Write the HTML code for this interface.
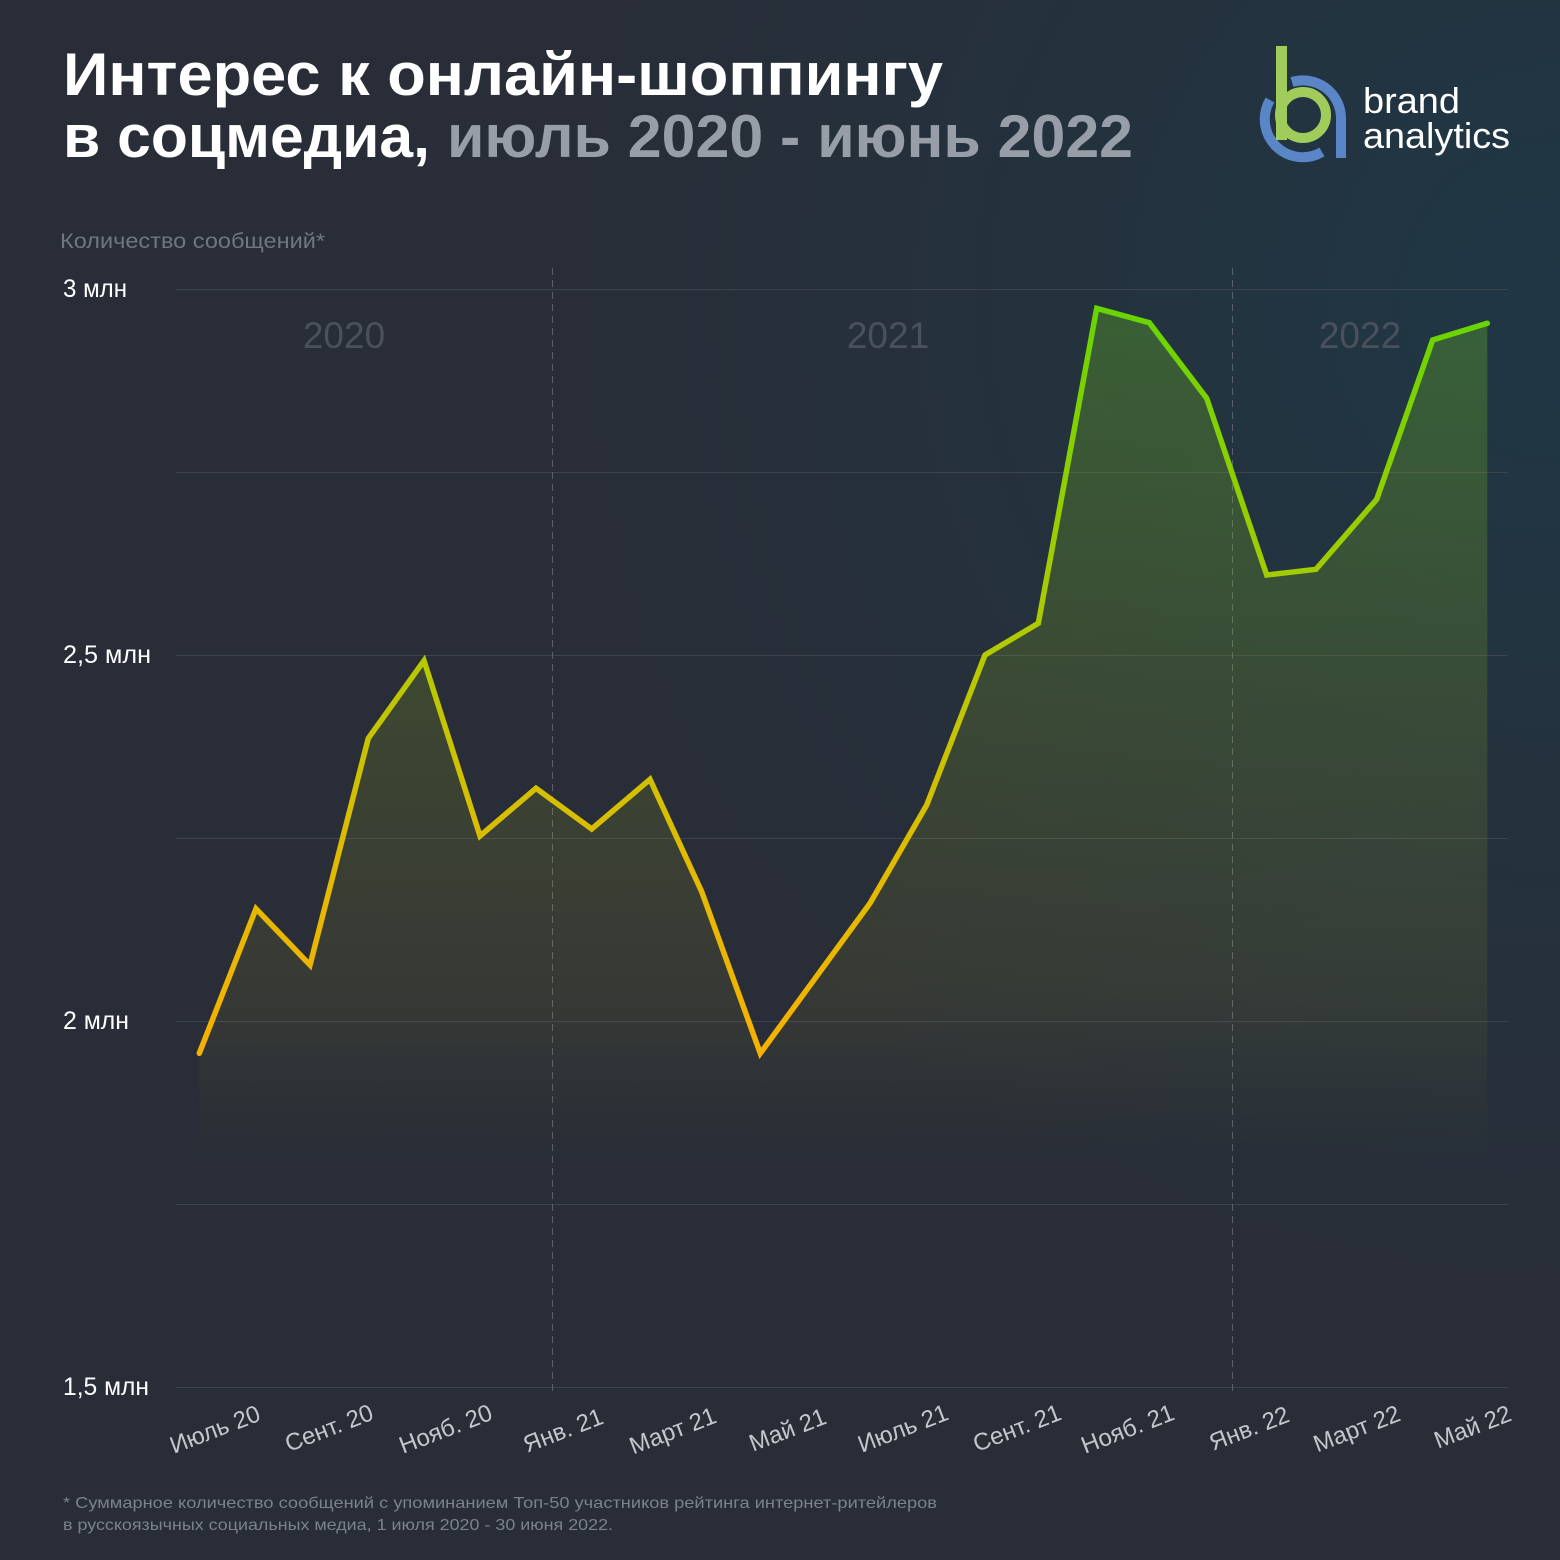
<!DOCTYPE html>
<html>
<head>
<meta charset="utf-8">
<style>
  html, body { margin:0; padding:0; width:1560px; height:1560px; overflow:hidden; background:#282d37; }
  svg { display:block; }
  text { font-family: "Liberation Sans", "Noto Sans CJK JP", sans-serif; }
</style>
</head>
<body>
<svg width="1560" height="1560" viewBox="0 0 1560 1560" xmlns="http://www.w3.org/2000/svg">
  <defs>
    <radialGradient id="bg" gradientUnits="userSpaceOnUse" cx="1560" cy="300" r="1000">
      <stop offset="0" stop-color="#1f3745"/>
      <stop offset="0.4" stop-color="#23333f"/>
      <stop offset="1" stop-color="#282d37"/>
    </radialGradient>
    <linearGradient id="lineg" gradientUnits="userSpaceOnUse" x1="0" y1="1060" x2="0" y2="305">
      <stop offset="0" stop-color="#f7b100"/>
      <stop offset="0.27" stop-color="#e0bb00"/>
      <stop offset="0.53" stop-color="#b6c900"/>
      <stop offset="1" stop-color="#66d500"/>
    </linearGradient>
    <linearGradient id="fillg" gradientUnits="userSpaceOnUse" x1="0" y1="300" x2="0" y2="1160">
      <stop offset="0" stop-color="#6ec81e" stop-opacity="0.30"/>
      <stop offset="0.45" stop-color="#96be14" stop-opacity="0.18"/>
      <stop offset="0.8" stop-color="#beaa1e" stop-opacity="0.10"/>
      <stop offset="1" stop-color="#beaa1e" stop-opacity="0"/>
    </linearGradient>
  </defs>

  <rect x="0" y="0" width="1560" height="1560" fill="url(#bg)"/>

  <!-- Title -->
  <text x="63" y="95" font-size="60" font-weight="bold" fill="#ffffff" textLength="880" lengthAdjust="spacingAndGlyphs">Интерес к онлайн-шоппингу</text>
  <text x="63" y="157" font-size="60" font-weight="bold" fill="#ffffff" textLength="367" lengthAdjust="spacingAndGlyphs">в соцмедиа,</text>
  <text x="447" y="157" font-size="60" font-weight="bold" fill="#989ea7" textLength="686" lengthAdjust="spacingAndGlyphs">июль 2020 - июнь 2022</text>

  <!-- Logo -->
  <g fill="none" stroke-width="10">
    <path d="M 1270 100 A 38 38 0 0 0 1322 152" stroke="#5a86c8"/>
    <path d="M 1292 82 A 38 38 0 0 1 1341 118 L 1341 158" stroke="#5a86c8"/>
    <circle cx="1303" cy="115" r="23" stroke="#a0cc5c"/>
  </g>
  <rect x="1276" y="46" width="11" height="94" fill="#a0cc5c"/>
  <text x="1363" y="113" font-size="36" fill="#ffffff" textLength="97" lengthAdjust="spacingAndGlyphs">brand</text>
  <text x="1363" y="148" font-size="36" fill="#ffffff" textLength="147" lengthAdjust="spacingAndGlyphs">analytics</text>

  <!-- Axis title -->
  <text x="60" y="248" font-size="21" fill="#70767f" textLength="265" lengthAdjust="spacingAndGlyphs">Количество сообщений*</text>

  <!-- Gridlines -->
  <g stroke="#3d434c" stroke-width="1">
    <line x1="176" y1="289.5" x2="1508" y2="289.5"/>
    <line x1="176" y1="472.5" x2="1508" y2="472.5"/>
    <line x1="176" y1="655.5" x2="1508" y2="655.5"/>
    <line x1="176" y1="838.5" x2="1508" y2="838.5"/>
    <line x1="176" y1="1021.5" x2="1508" y2="1021.5"/>
    <line x1="176" y1="1204.5" x2="1508" y2="1204.5"/>
    <line x1="176" y1="1387.5" x2="1508" y2="1387.5"/>
  </g>

  <!-- Dashed year separators -->
  <g stroke="#59606a" stroke-width="1" stroke-dasharray="7 5">
    <line x1="552.5" y1="268" x2="552.5" y2="1392"/>
    <line x1="1232.5" y1="268" x2="1232.5" y2="1392"/>
  </g>

  <!-- Year labels -->
  <g font-size="37" fill="#4a515c" text-anchor="middle">
    <text x="344" y="348">2020</text>
    <text x="888" y="348">2021</text>
    <text x="1360" y="348">2022</text>
  </g>

  <!-- Y labels -->
  <g font-size="25" fill="#ffffff">
    <text x="63" y="297" textLength="64" lengthAdjust="spacingAndGlyphs">3 млн</text>
    <text x="63" y="663" textLength="88" lengthAdjust="spacingAndGlyphs">2,5 млн</text>
    <text x="63" y="1029" textLength="66" lengthAdjust="spacingAndGlyphs">2 млн</text>
    <text x="63" y="1395" textLength="86" lengthAdjust="spacingAndGlyphs">1,5 млн</text>
  </g>

  <!-- Area fill -->
  <polygon fill="url(#fillg)" points="199.3,1053.3 256,908.7 310,965 368.3,738.3 424,660.7 480,836 536,788.3 591.7,829 650,779.3 701.7,891.7 760.3,1053.3 815,978.5 870,903.3 926.7,805 985,655 1038.3,623.3 1096.7,308.3 1149.3,322.7 1206.7,398.3 1266.7,575 1316,569.3 1376.7,499.3 1432.7,340 1487.3,323.3 1487.3,1387 199.3,1387"/>

  <!-- Line -->
  <polyline fill="none" stroke="url(#lineg)" stroke-width="5.5" stroke-linejoin="miter" stroke-linecap="round" points="199.3,1053.3 256,908.7 310,965 368.3,738.3 424,660.7 480,836 536,788.3 591.7,829 650,779.3 701.7,891.7 760.3,1053.3 815,978.5 870,903.3 926.7,805 985,655 1038.3,623.3 1096.7,308.3 1149.3,322.7 1206.7,398.3 1266.7,575 1316,569.3 1376.7,499.3 1432.7,340 1487.3,323.3"/>

  <!-- X labels -->
  <g font-size="24" fill="#c3c7cd" text-anchor="end">
    <text transform="translate(262,1420) rotate(-21)">Июль 20</text>
    <text transform="translate(375,1419) rotate(-21)">Сент. 20</text>
    <text transform="translate(494,1419) rotate(-21)">Нояб. 20</text>
    <text transform="translate(605,1423) rotate(-21)">Янв. 21</text>
    <text transform="translate(718,1422) rotate(-21)">Март 21</text>
    <text transform="translate(828,1423) rotate(-21)">Май 21</text>
    <text transform="translate(950,1419) rotate(-21)">Июль 21</text>
    <text transform="translate(1063,1419) rotate(-21)">Сент. 21</text>
    <text transform="translate(1176,1419) rotate(-21)">Нояб. 21</text>
    <text transform="translate(1291,1421) rotate(-21)">Янв. 22</text>
    <text transform="translate(1402,1420) rotate(-21)">Март 22</text>
    <text transform="translate(1513,1420) rotate(-21)">Май 22</text>
  </g>

  <!-- Footnote -->
  <text x="63" y="1508" font-size="16" fill="#7c828b" textLength="874" lengthAdjust="spacingAndGlyphs">* Суммарное количество сообщений с упоминанием Топ-50 участников рейтинга интернет-ритейлеров</text>
  <text x="63" y="1530" font-size="16" fill="#7c828b" textLength="550" lengthAdjust="spacingAndGlyphs">в русскоязычных социальных медиа, 1 июля 2020 - 30 июня 2022.</text>
</svg>
</body>
</html>
